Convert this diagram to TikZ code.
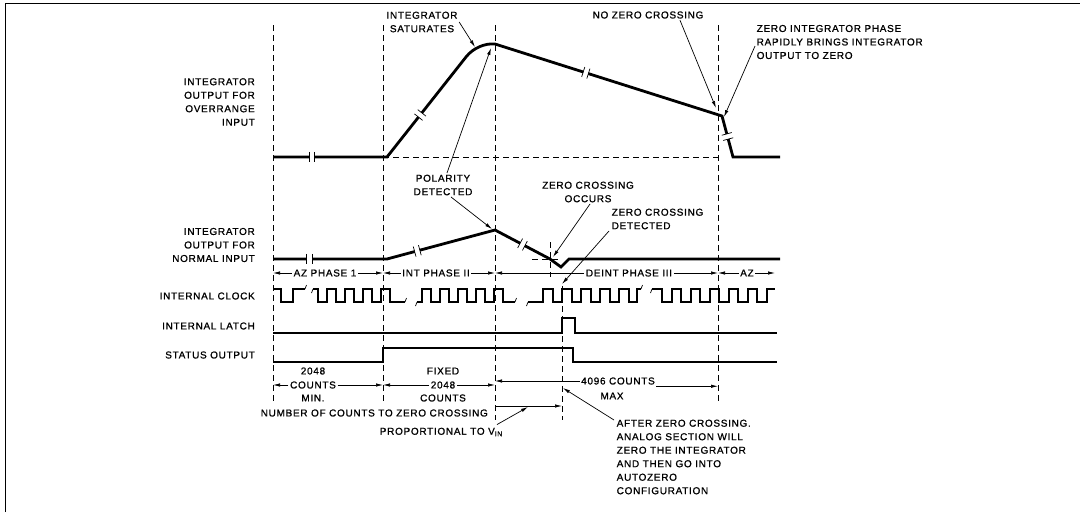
\documentclass[tikz,border=0pt]{standalone}
\usepackage{fontspec}
\setmainfont{Liberation Sans}[LetterSpace=7,FakeBold=1]
\usetikzlibrary{arrows.meta}
\begin{document}
\begin{tikzpicture}[x=1pt,y=-1pt,font=\fontsize{10}{13.5}\selectfont]
\tikzset{
  wave/.style={line width=2.8pt,line join=miter},
  vdash/.style={line width=1pt,dash pattern=on 6pt off 4pt},
  lead/.style={line width=0.7pt,-{Latex[length=7pt,width=3.4pt]}},
  dimarr/.style={line width=0.7pt,-{Latex[length=7pt,width=3.4pt]}},
  lbl/.style={inner sep=0pt,align=right,anchor=east},
  txt/.style={inner sep=1.5pt,align=center},
  ltxt/.style={inner sep=1.5pt,align=left},
  brk/.style={sloped,fill=white,inner sep=0pt,minimum width=5pt,minimum height=10pt},
  tick/.style={line width=0.7pt},
}
\useasboundingbox (0,0) rectangle (1080,512);
% frame
\draw[line width=1pt] (5,512) -- (5,3) -- (1080,3);

% reference coordinates
\coordinate (v1) at (273,0);
\coordinate (v2) at (383,0);
\coordinate (v3) at (495,0);
\coordinate (v4) at (562,0);
\coordinate (v5) at (718,0);
\coordinate (vend) at (775,0);

% dashed verticals
\draw[vdash] (273,25) -- (273,404);
\draw[vdash] (383,25) -- (383,402);
\draw[vdash] (495,25) -- (495,420);
\draw[vdash] (718,25) -- (718,402);
\draw[vdash] (562,286) -- (562,420);
\draw[vdash] (550,242) -- (550,277);
% dashed horizontals
\draw[vdash] (383,157) -- (718,157);
\draw[vdash] (532,259) -- (560,259);

% left labels
\node[lbl] (lovr) at (255,102) {INTEGRATOR\\OUTPUT FOR\\OVERRANGE\\INPUT};
\node[lbl] (lnorm) at (255,245) {INTEGRATOR\\OUTPUT FOR\\NORMAL INPUT};
\node[lbl] (lclk) at (255,296) {INTERNAL CLOCK};
\node[lbl] (llat) at (255,326) {INTERNAL LATCH};
\node[lbl] (lsta) at (255,355) {STATUS OUTPUT};

% overrange waveform
\draw[wave] (273,157) -- (387,157) -- (466,57)
  .. controls (473,48) and (485,43) .. (495,44)
  -- (722,116) -- (733,157) -- (780,157);
% normal waveform
\draw[wave] (273,259) -- (387,259) -- (495,230) -- (550,259) -- (561,267) -- (569,259) -- (780,259);

% break marks on waveforms
\path (273,157) -- (387,157) node[brk,pos=0.34] (b1) {};
\path (387,157) -- (466,57) node[brk,pos=0.42] (b2) {};
\path (495,44) -- (722,116) node[brk,pos=0.4] (b3) {};
\path (722,116) -- (733,157) node[brk,pos=0.5] (b4) {};
\path (273,259) -- (387,259) node[brk,pos=0.32] (b5) {};
\path (387,259) -- (495,230) node[brk,pos=0.28] (b6) {};
\path (495,230) -- (550,259) node[brk,pos=0.5] (b7) {};
\foreach \b in {b1,b2,b3,b4,b5,b6,b7}{
  \draw[tick] (\b.north west) -- (\b.south west);
  \draw[tick] (\b.north east) -- (\b.south east);
}

% internal clock
\draw[wave] (273,289) -| (281,302) -| (293,289) -- (305,289);
\draw[wave] (313,289) -| (318,302) -| (327,289) -| (336,302) -| (345,289) -| (354,302) -| (363,289) -| (372,302) -| (381,289) -| (390,302) -- (405,302);
\draw[wave] (417,302) -| (422,289) -| (431,302) -| (440,289) -| (449,302) -| (458,289) -| (467,302) -| (476,289) -| (485,302) -| (494,289) -| (503,302) -- (515,302);
\draw[wave] (528,302) -| (543,289) -| (553,302) -| (562,289) -| (572,302) -| (581,289) -| (591,302) -| (600,289) -| (610,302) -| (619,289) -| (629,302) -| (637,289) -- (641,289);
\draw[wave] (652,289) -| (662,302) -| (672,289) -| (681,302) -| (691,289) -| (700,302) -| (710,289) -| (719,302) -| (729,289) -| (738,302) -| (748,289) -| (757,302) -| (767,289) -- (775,289);
% clock break ticks
\draw[tick] (305,289) -- ++(1.5,-4);
\draw[tick] (313,289) -- ++(-1.5,4);
\draw[tick] (405,302) -- ++(1.5,-4);
\draw[tick] (417,302) -- ++(-1.5,4);
\draw[tick] (515,302) -- ++(1.5,-4);
\draw[tick] (528,302) -- ++(-1.5,4);
\draw[tick] (641,289) -- ++(1.5,-4);
\draw[tick] (652,289) -- ++(-1.5,4);

% internal latch
\draw[wave] (273,333) -- (562,333) -- (562,318) -- (575,318) -- (575,333) -- (777,333);
% status output
\draw[wave] (273,362) -- (383,362) -- (383,348) -- (573,348) -- (573,362) -- (777,362);

% phase arrows
\node[txt] (p1) at (325,273) {AZ PHASE 1};
\draw[dimarr] (p1.west) -- (p1.west -| v1);
\draw[dimarr] (p1.east) -- (p1.east -| v2);
\node[txt] (p2) at (436,273) {INT PHASE II};
\draw[dimarr] (p2.west) -- (p2.west -| v2);
\draw[dimarr] (p2.east) -- (p2.east -| v3);
\node[txt] (p3) at (629,273) {DEINT PHASE III};
\draw[dimarr] (p3.west) -- (p3.west -| v3);
\draw[dimarr] (p3.east) -- (p3.east -| v5);
\node[txt] (p4) at (747,273) {AZ};
\draw[dimarr] (p4.west) -- (p4.west -| v5);
\draw[dimarr] (p4.east) -- (p4.east -| vend);

% top annotations
\node[txt] (sat) at (422,22) {INTEGRATOR\\SATURATES};
\coordinate (sattip) at (475,47);
\draw[lead] (sat.east) -- (sattip);
\node[txt] (nzc) at (648,15) {NO ZERO CROSSING};
\coordinate (nzctip) at (716,108);
\draw[lead] ([xshift=32pt]nzc.south) -- (nzctip);
\node[ltxt,anchor=west] (zip) at (755,42) {ZERO INTEGRATOR PHASE\\RAPIDLY BRINGS INTEGRATOR\\OUTPUT TO ZERO};
\coordinate (ziptip) at (724,117);
\draw[lead] ([yshift=-4pt]zip.west) -- (ziptip);

\node[txt] (pol) at (443,185) {POLARITY\\DETECTED};
\coordinate (poltipa) at (491,48);
\coordinate (poltipb) at (492,229);
\draw[lead] ([xshift=4pt]pol.north) -- (poltipa);
\draw[lead] ([xshift=8pt]pol.south) -- (poltipb);
\node[txt] (zco) at (588,192) {ZERO CROSSING\\OCCURS};
\coordinate (zcotip) at (553,257);
\draw[lead] ([xshift=2pt]zco.south) -- (zcotip);
\node[ltxt,anchor=west] (zcd) at (610,219) {ZERO CROSSING\\DETECTED};
\coordinate (zcdtip) at (562,284);
\draw[lead] ([xshift=-1pt]zcd.south west) -- (zcdtip);

% bottom dimensions
\node[txt] (d1a) at (313,371) {2048};
\node[txt] (d1b) at (313,385) {COUNTS};
\node[txt] (d1c) at (313,398) {MIN.};
\draw[dimarr] (d1b.west) -- (d1b.west -| v1);
\draw[dimarr] (d1b.east) -- (d1b.east -| v2);
\node[txt] (d2a) at (443,371) {FIXED};
\node[txt] (d2b) at (443,385) {2048};
\node[txt] (d2c) at (443,398) {COUNTS};
\draw[dimarr] (d2b.west) -- (d2b.west -| v2);
\draw[dimarr] (d2b.east) -- (d2b.east -| v3);
\node[txt] (d3a) at (618,381) {4096 COUNTS};
\node[txt] (d3b) at (612,396) {MAX};
\draw[dimarr] (d3a.west) -- (d3a.west -| v3);
\draw[dimarr] (d3a.south east) -- (d3a.south east -| v5);

\node[lbl] (ncz) at (488,413) {NUMBER OF COUNTS TO ZERO CROSSING};
\coordinate (pl) at (495,406);
\coordinate (pr) at (562,406);
\draw[dimarr] (pl) -- (pr);
\node[lbl] (prop) at (503,432) {PROPORTIONAL TO V\textsubscript{IN}};
\coordinate (proptip) at (528,407);
\draw[lead] ([xshift=-6pt,yshift=3pt]prop.north east) -- (proptip);

\node[ltxt,anchor=north west] (aft) at (615,418) {AFTER ZERO CROSSING.\\ANALOG SECTION WILL\\ZERO THE INTEGRATOR\\AND THEN GO INTO\\AUTOZERO\\CONFIGURATION};
\coordinate (afttip) at (563,388);
\draw[lead] ([xshift=-1pt,yshift=-2pt]aft.north west) -- (afttip);
\end{tikzpicture}
\end{document}
